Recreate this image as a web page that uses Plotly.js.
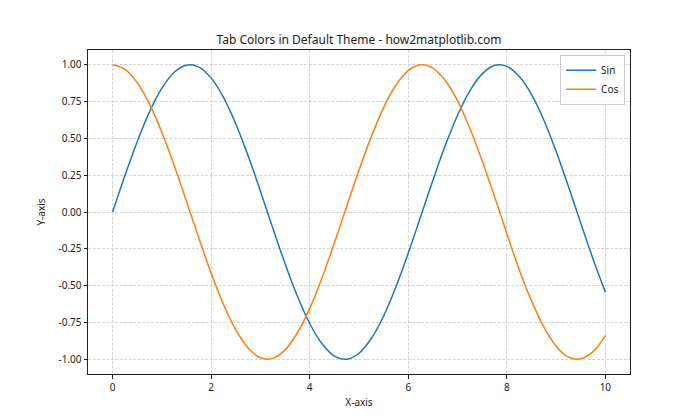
<!DOCTYPE html>
<html>
<head>
<meta charset="utf-8">
<script src="https://cdn.plot.ly/plotly-3.0.1.min.js"></script>
<style>html,body{margin:0;padding:0;background:#fff;}#chart{width:700px;height:420px;}</style>
</head>
<body>
<div id="chart"></div>
<script>
const xValues = [0,0.25,0.5,0.75,1,1.25,1.5,1.75,2,2.25,2.5,2.75,3,3.25,3.5,3.75,4,4.25,4.5,4.75,5,5.25,5.5,5.75,6,6.25,6.5,6.75,7,7.25,7.5,7.75,8,8.25,8.5,8.75,9,9.25,9.5,9.75,10];
const sinValues = [0,0.247,0.479,0.682,0.841,0.949,0.997,0.984,0.909,0.778,0.598,0.382,0.141,-0.108,-0.351,-0.572,-0.757,-0.895,-0.978,-0.999,-0.959,-0.859,-0.706,-0.508,-0.279,-0.033,0.215,0.451,0.657,0.823,0.938,0.995,0.989,0.921,0.798,0.625,0.412,0.174,-0.075,-0.319,-0.544];
const cosValues = [1,0.969,0.878,0.732,0.540,0.315,0.071,-0.178,-0.416,-0.628,-0.801,-0.924,-0.990,-0.994,-0.936,-0.820,-0.654,-0.446,-0.211,0.038,0.284,0.512,0.709,0.862,0.960,1.000,0.977,0.893,0.754,0.567,0.347,0.105,-0.146,-0.390,-0.602,-0.780,-0.911,-0.985,-0.997,-0.948,-0.839];
const seriesNames = ['Sin','Cos'];
const xTicks = [0,2,4,6,8,10];
const yTicks = [-1,-0.75,-0.5,-0.25,0,0.25,0.5,0.75,1];

const FONT = 'Noto Sans, DejaVu Sans, sans-serif';
const traces = [
  {x: xValues, y: sinValues, name: seriesNames[0], mode: 'lines', line: {color: '#1f77b4', width: 1.5, shape: 'spline'}},
  {x: xValues, y: cosValues, name: seriesNames[1], mode: 'lines', line: {color: '#ff7f0e', width: 1.5, shape: 'spline'}}
];
const axisCommon = {
  showline: true, mirror: true, linecolor: '#222', linewidth: 1,
  ticks: 'outside', ticklen: 3.5, tickwidth: 1, tickcolor: '#222',
  showgrid: true, gridcolor: '#cbcbcb', gridwidth: 0.8, griddash: '3px,1.5px',
  zeroline: false, tickfont: {family: FONT, size: 10, color: '#222'}
};
const layout = {
  width: 700, height: 420,
  margin: {l: 88, r: 70, t: 50, b: 46},
  paper_bgcolor: '#fff', plot_bgcolor: '#fff',
  font: {family: FONT, color: '#222'},
  title: {text: 'Tab Colors in Default Theme - how2matplotlib.com', font: {family: FONT, size: 12, color: '#222'}, x: 0.5, xref: 'paper', y: 0.905, yref: 'container', yanchor: 'middle'},
  xaxis: Object.assign({}, axisCommon, {range: [-0.5, 10.5], tickvals: xTicks, ticktext: xTicks.map(String),
    title: {text: 'X-axis', font: {family: FONT, size: 10, color: '#222'}, standoff: 6}}),
  yaxis: Object.assign({}, axisCommon, {range: [-1.1, 1.1], tickvals: yTicks, ticktext: yTicks.map(v => v.toFixed(2)),
    title: {text: 'Y-axis', font: {family: FONT, size: 10, color: '#222'}, standoff: 10}}),
  legend: {x: 0.991, y: 0.985, xanchor: 'right', yanchor: 'top', bgcolor: 'rgba(255,255,255,0.8)', bordercolor: '#ccc', borderwidth: 1,
    font: {family: FONT, size: 10, color: '#222'}, tracegroupgap: 2},
  showlegend: true
};
Plotly.newPlot('chart', traces, layout, {displayModeBar: false, staticPlot: true});
</script>
</body>
</html>
